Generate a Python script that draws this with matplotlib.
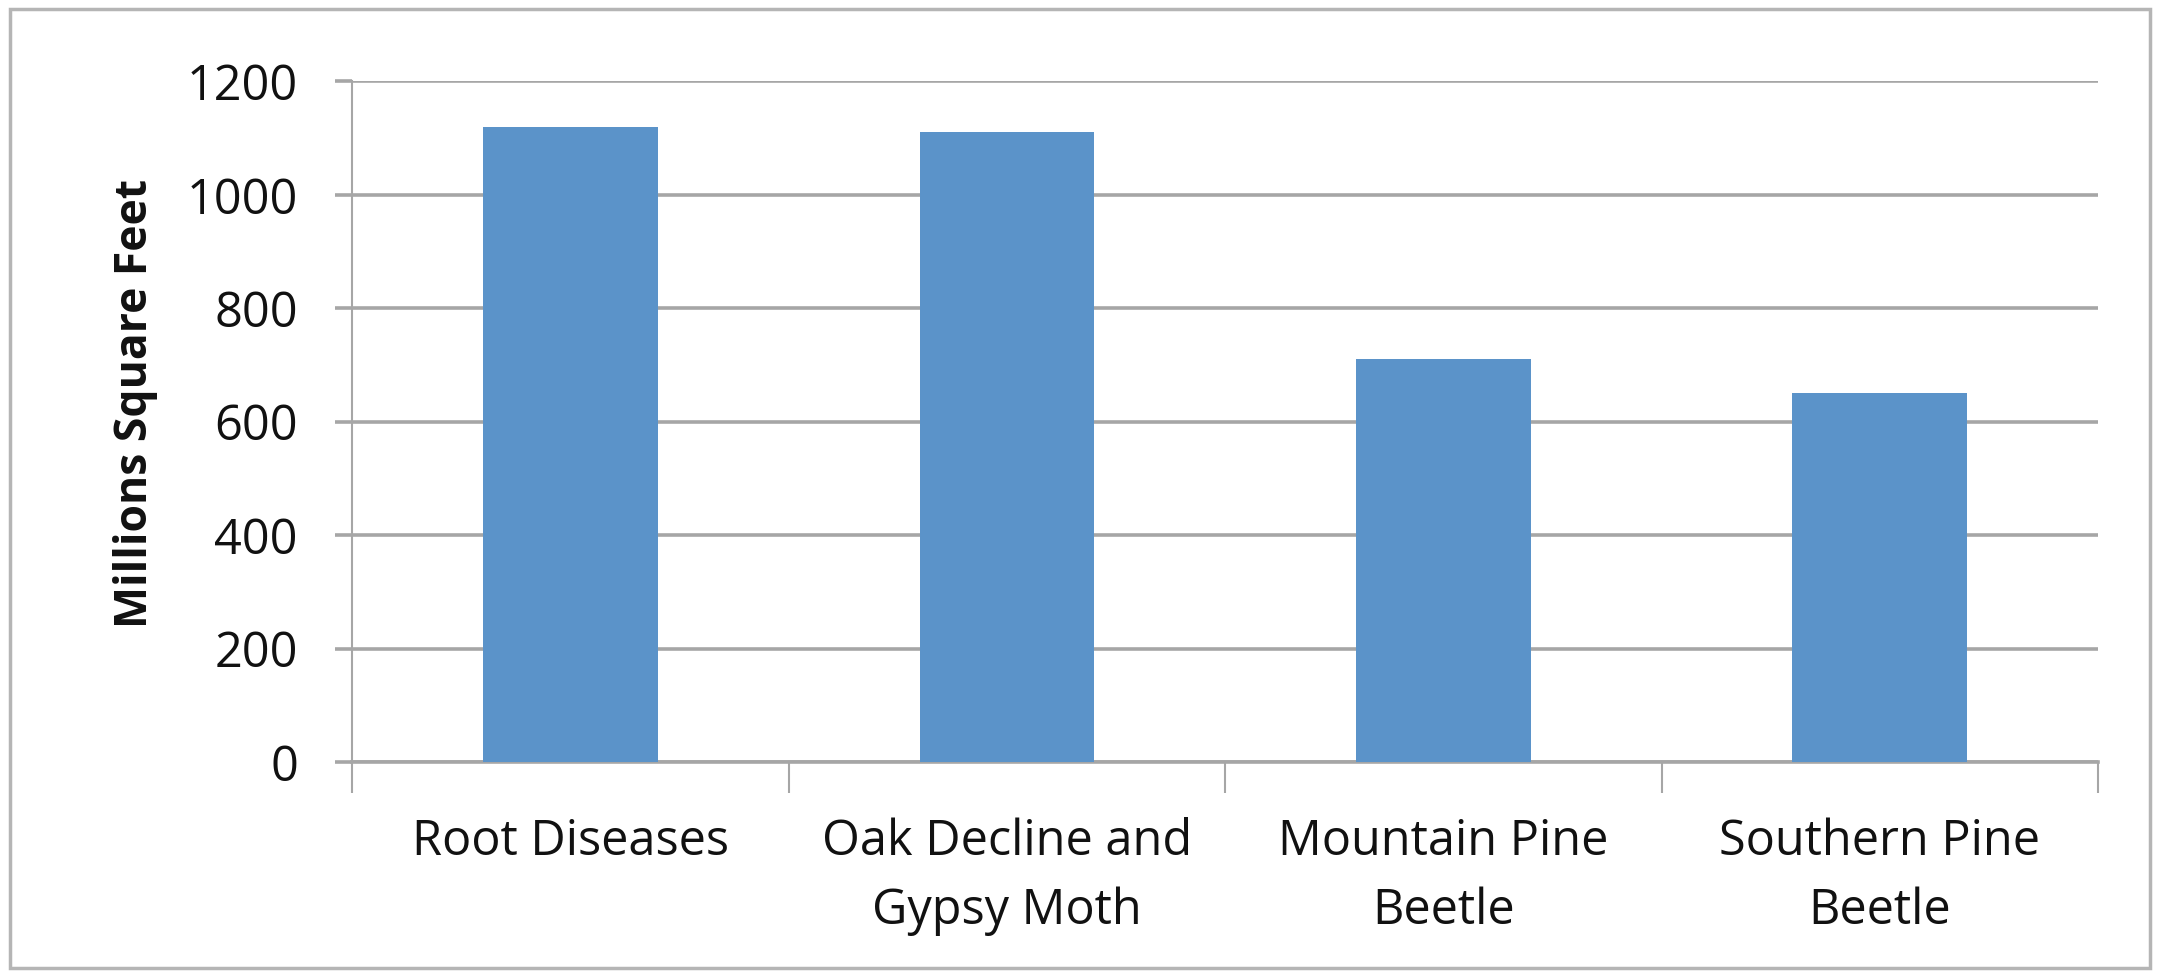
import matplotlib
matplotlib.use("Agg")
import matplotlib.pyplot as plt
from matplotlib.patches import Rectangle
import numpy as np

categories = ["Root Diseases", "Oak Decline and\nGypsy Moth", "Mountain Pine\nBeetle", "Southern Pine\nBeetle"]
values = [1120, 1110, 710, 650]
y_ticks = [0, 200, 400, 600, 800, 1000, 1200]

BAR = "#5B93C9"
GRID = "#A6A6A6"
TEXT = "#111111"

plt.rcParams["font.family"] = ["Open Sans", "DejaVu Sans"]

fig = plt.figure(figsize=(21.64, 9.71), dpi=100)
ax = fig.add_axes([0.1627, 0.2152, 0.8068, 0.7010])

x = np.arange(len(categories))
ax.bar(x, values, width=0.4, color=BAR, zorder=3)

ax.set_xlim(-0.5, len(categories) - 0.5)
ax.set_ylim(0, 1200)
ax.set_yticks(y_ticks)
ax.set_yticklabels([str(v) for v in y_ticks], fontsize=35, color=TEXT)
ax.grid(axis="y", color=GRID, linewidth=2.6, zorder=1)
ax.set_axisbelow(True)

# category labels centred on bars, tick marks at category boundaries
ax.set_xticks(x)
ax.set_xticklabels(categories, fontsize=35, color=TEXT, linespacing=1.53, va="top")
ax.tick_params(axis="x", length=0, pad=40)
ax.set_xticks(np.arange(len(categories) + 1) - 0.5, minor=True)
ax.tick_params(axis="x", which="minor", length=22, width=1.5, color=GRID)
ax.tick_params(axis="y", length=12, width=2.6, color=GRID, pad=27)

for side in ["top", "right"]:
    ax.spines[side].set_visible(False)
ax.spines["left"].set_color(GRID)
ax.spines["left"].set_linewidth(1.5)
ax.spines["bottom"].set_color(GRID)
ax.spines["bottom"].set_linewidth(2.6)

fig.text(0.0624, 0.584, "Millions Square Feet", fontsize=32, fontweight="bold",
         color=TEXT, rotation=90, ha="center", va="center")

# outer frame around the whole chart
fig.patches.append(Rectangle((0.0045, 0.003), 0.989, 0.988, transform=fig.transFigure,
                             fill=False, edgecolor="#B5B5B5", linewidth=2.5))

fig.savefig("out.png", dpi=100)
